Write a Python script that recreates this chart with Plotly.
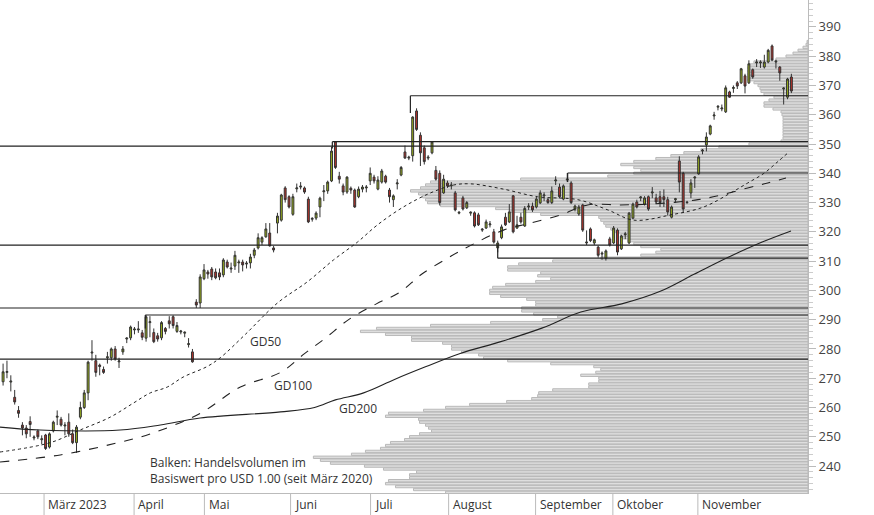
import plotly.graph_objects as go

# ---- candles (one per trading day, index 0..204) ----
opens = [268.8,272,268.7,263.5,259,254,253,255.2,249.6,252,249,250.6,246.5,252,256.7,256,253.7,255,251,248,256.7,260,265,278.6,276,274.5,273,277,277,280,275.6,279,283.4,283.8,286.5,286.5,285.5,283.7,289,285.6,284.5,283.8,287,289.6,291,286,285.8,285.4,281.5,279,296,295.7,304,306.3,307.3,306.3,306,
 305.3,309.7,307.3,308.3,309.4,309.7,309,309.4,312,314.5,316.5,318.3,319.6,314.5,323,324,335,332,326,334.7,335.3,335,331.2,324.3,324.7,328.5,333.7,334,337.4,350.7,339,335.7,333.6,334.9,334.3,332,334.6,335,337.4,338.7,334.6,337,339,334.3,331,336.4,339.4,347.3,345.2,346,361.3,353,348.7,345.2,347,341,340,
 333.3,336.7,335.7,333.3,326.4,331.6,328.2,326.4,326.5,325.8,320.6,321.3,322.4,320,314.5,318,325,323.4,332.3,321.3,325,322,328.5,328.8,328.5,329.9,332.3,331,330,337.4,335.3,331.2,337.7,336.7,327.8,326.1,329.2,316.2,321,316.2,314.8,312.4,311,317.6,316.2,320.6,314.2,319,316.2,324.7,330.2,331.6,329.5,332,
 333.3,331.6,332,332,331,325,331,344.2,340,330.2,333.3,338.4,339.8,347.6,349.7,353.4,359.6,362.6,362,361,367.8,369,370.9,370.9,373.3,370.9,375.4,377.7,377.7,376.3,378,383.5,378,376.3,368.8,366,372.9]
closes = [272.2,272.3,269,261.9,258,253,251,254.2,249.9,250,249.3,246,251,255,257,254,254,251,248,253.3,260,265,275.5,278.9,272,274,272,277.3,280,276.6,275.9,280,283.7,287.5,286.8,286.8,284,291,289.3,282.5,283.4,289,286,288.6,288,288,286.1,285.7,281.8,275.6,295,304.6,307,305.6,304.6,304.3,304.6,
 310.4,308,307.6,312,309.7,308.7,309.3,311.4,313.8,318,318,321,315.2,313.8,325.4,332.6,331,328.5,332,335,335.6,333.6,323.4,324.6,326.4,331.5,334,337,347.6,342,338,333.6,338.7,334.3,328.5,334.6,335.3,335.3,340,337.4,337.7,340.8,337,332,332.3,336.7,342,345.2,345.5,359.2,355,347,344,345.5,350.7,338,330,
 338,335.7,336,327.5,326.7,327.8,330,326.7,322,322.4,320.9,323.4,322.7,316.5,316.2,321.7,322.4,326.8,320,322.4,323.4,328,328.8,327.5,331.2,333.3,332.6,330,334,337.7,332,335.7,338,330,328.8,328.5,320.6,316.5,317,317.3,312,312.7,313.5,315.5,321.3,313.1,318.6,319.3,326.4,329.5,328.5,331.9,331.6,327.8,
 333.6,330.2,330,331,326.8,328.5,331.3,337,327.8,330,336.7,338.7,345.6,347.9,352.4,356.2,359.9,362.9,362.3,369.2,366,369.3,369.8,375.7,369.8,377.4,372.9,378,378,378,382,378.7,378.3,374.3,369.1,372.2,368.1]
highs = [275,276,271,266,260.5,255,254,257,250.5,252.5,250.5,251,251.5,255.5,259,256.8,255,258,252.5,254,262,266,276,283,278,275,274,279,280.5,281,277,281,284,288,287.5,289.5,286.5,291.6,291.2,287,285.5,289.5,287.5,291.2,291.5,289.2,286.5,286,283.7,280,297,305.5,309,307,308,307.5,307.5,
 311,310.5,309.5,313.5,310.5,310.5,310,312.5,314.5,319.5,318.5,323,323,315.2,326.5,333,335.6,332.5,333,336.5,337,335.5,332,325,327,332,336,337.5,349,351,340.5,336.5,339,335.5,334.8,335.5,336,336,342,339.5,339,341.5,339.5,335,332.8,338,342.5,349.5,346,359.5,362.2,354,349.5,346.2,351,342.5,341,
 339.5,337.5,337,334,327,332.3,330.5,327,327,326.5,321.3,324.2,323.7,321,317,322.5,326.5,329.5,332.6,325.5,326.5,328.8,329.8,330,332,334.2,333.5,331.6,335.5,339,336.5,336.2,340.1,337.3,329.3,329.2,329.6,320.5,321.5,317.7,315.3,313.3,314,318.3,322,321.2,319,320,326.8,330,331,332.2,332.2,332.4,
 335.3,333,334,334.5,332,329,331.6,345.8,340.5,330.6,338,339,346.2,348.3,354,356.6,361,363.2,363.5,370,368.2,370,371.5,376,374,378.6,375.8,379,378.6,380.5,382.5,384,378.8,376.6,369.4,372.6,374]
lows = [267.5,270,265.5,261,256.5,250.5,249.5,250,248.8,249.2,247.5,245.5,246,251.5,254,253.5,250.5,250,247.5,244.5,256,259.5,262.5,276,270.5,271,271.5,275,276,276,273.5,278,282,283,285,285.5,283,282.5,284,282,282.5,283,285,287,287,285.5,285,284,280.5,275.3,294,294,303.5,304,303.5,303.8,303.5,
 304.5,307.5,306,307,306,306.5,307.5,307.5,311,314,315.5,318,315,313,319.5,323.5,330,328,325.5,333.5,334.5,333,323,323.5,324,325,330.5,333,337,341.5,336.5,332.5,333,333,328.2,331.5,333.5,333.5,336,336.5,334.2,336.5,336.5,330,328.5,334.5,339,345,344.5,344,354.5,342.5,343,344.5,346.5,337.5,329,
 333,335,334.5,327,326,327.3,327.8,325.5,321.5,322,320,321,321.5,316,313,317.5,322,323,319.5,321,322.8,321.7,327.5,326.8,328,329.5,330.5,329.6,329.5,336,331.5,330.8,337,329.5,327,325.5,320,315.5,316.5,315.5,311.2,310.5,310.2,315,315.8,312,313.8,317.5,315.8,324.3,328,330.5,329,327.2,
 331.5,329.5,328.5,328.5,325.6,324.6,330,333.5,326.5,329.6,331.5,335,339.5,346.5,347.5,353,358.3,361.5,361.2,360.6,365.8,367.5,368.8,370.5,367.3,370.5,372.3,376.3,376,375.8,377.6,378.3,375.8,371.6,363.5,365.3,367.4]
candle_index = list(range(len(opens)))

# ---- moving averages (sampled) ----
gd50_x = [-0.8,12.2,19.9,27.7,33.7,38.1,42.5,46.6,52.8,56.2,62.7,71,78.8,85.5,91.7,96.9,103.6,110.6,116.6,121,129.5,138.3,148.7,156.5,163.2,172.8,181.3,188.3,192.7,196.9,200.5,203.4]
gd50_y = [244.8,248,252.3,256.7,261.5,265,267,270.4,274,277,285,295.7,303,310.4,316.5,322.4,328.5,333.3,336,336.4,334.6,332,331,327.5,324,325.8,328.5,333.3,336.7,340,344,347.3]
gd100_x = [-0.8,14.8,29.5,38.1,51,61.4,71.8,78,83.4,89.6,96.6,102.8,108.3,115.5,121.8,129.5,136.5,144.3,151.3,159.8,167.6,179.8,185.8,192.7,197.9,202.6]
gd100_y = [241.4,243.8,247.9,251,258,267,272,278.4,283.7,290.2,295.4,299.5,305.5,311.4,315.9,320.6,323,325.8,329.2,329.2,329.5,331,332.6,335,336.7,338.4]
gd200_x = [-0.8,9.6,30.3,40.7,51,71.8,80.6,86,93.3,101.3,109.3,118.1,128.8,139.6,149.5,160.1,169.9,178.8,187.8,196.6,203.9]
gd200_y = [253.3,252.3,252.3,254,256.4,258.5,260,262.6,265,269.6,273.9,278.4,282.5,287.2,292.6,295.4,299.6,305.5,311.4,316.6,320.3]

# ---- volume profile (price bins 231..385) ----
profile_price = list(range(231, 386))
profile_volume = [362,394,412,422,419,398,398,391,424,443,477,487,494,456,442,427,422,417,403,398,388,376,379,382,388,389,422,419,384,362,338,301,276,270,269,255,219,219,209,209,227,212,207,214,257,300,324,329,346,356,356,365,396,396,422,447,431,377,317,265,250,274,286,286,272,272,281,307,318,318,315,302,272,257,270,267,300,300,289,255,207,
 167,152,147,167,174,180,185,187,192,197,202,204,207,209,267,297,312,367,380,382,385,389,397,387,382,377,287,200,174,167,174,187,174,152,137,124,107,89,59,27,25,25,25,25,25,25,25,25,26,27,35,44,44,39,34,44,47,48,50,54,60,60,60,60,60,59,54,32,22,15,10,5,2,1]

# ---- levels ----
full_levels = [349.3, 315.5, 294.0, 276.5]
part_levels = [366.5, 350.8, 340.1, 311.0, 291.6]
part_start = [105.4, 85.2, 146.1, 128.0, 36.8]
part_drop = [360.6, 348.5, 337.0, 315.5, 287.0]

month_ticks = [10.6, 33.9, 52.1, 74.4, 95.1, 115.3, 137.8, 157.8, 179.8]
month_labels = ["März 2023", "April", "Mai", "Juni", "Juli", "August", "September", "Oktober", "November"]

FONT = "Open Sans"
fig = go.Figure()
# profile on base axis x (drawn underneath), price marks on overlaying x2 (drawn on top)
fig.add_trace(go.Bar(orientation="h", y=profile_price, x=profile_volume, xaxis="x",
                     width=0.82, marker=dict(color="#dedede", line=dict(color="#b9b9b9", width=1)),
                     hoverinfo="skip", showlegend=False))
fig.add_trace(go.Scatter(x=gd200_x, y=gd200_y, xaxis="x2", mode="lines", line=dict(color="#222", width=1.1, shape="spline"), showlegend=False))
fig.add_trace(go.Scatter(x=gd100_x, y=gd100_y, xaxis="x2", mode="lines", line=dict(color="#222", width=1.1, dash="dash", shape="spline"), showlegend=False))
fig.add_trace(go.Scatter(x=gd50_x, y=gd50_y, xaxis="x2", mode="lines", line=dict(color="#222", width=1, dash="dot", shape="spline"), showlegend=False))
fig.add_trace(go.Candlestick(x=candle_index, open=opens, high=highs, low=lows, close=closes, xaxis="x2",
                             increasing=dict(fillcolor="#9bb21c", line=dict(color="#333", width=1)),
                             decreasing=dict(fillcolor="#b8322a", line=dict(color="#333", width=1)),
                             whiskerwidth=0, showlegend=False))

shapes = []
for lv in full_levels:
    shapes.append(dict(type="line", xref="paper", x0=0, x1=1, yref="y", y0=lv, y1=lv, line=dict(color="#222", width=1.2)))
for lv, st, dr in zip(part_levels, part_start, part_drop):
    shapes.append(dict(type="line", xref="x2", x0=st, x1=208.3, yref="y", y0=lv, y1=lv, line=dict(color="#222", width=1.2)))
    shapes.append(dict(type="line", xref="x2", x0=st, x1=st, yref="y", y0=lv, y1=dr, line=dict(color="#222", width=1.2)))
for t in month_ticks:
    shapes.append(dict(type="line", xref="x2", x0=t, x1=t, yref="paper", y0=0, y1=-0.045, line=dict(color="#bbb", width=1)))

ann = []
for t, l in zip(month_ticks, month_labels):
    ann.append(dict(x=t + 0.6, y=-0.003, xref="x2", yref="paper", text=l, showarrow=False,
                    xanchor="left", yanchor="top", font=dict(size=12, color="#333", family=FONT)))
for txt, xx, yy in [("GD50", 63.5, 282.5), ("GD100", 69.5, 267.5), ("GD200", 86.5, 259.5)]:
    ann.append(dict(x=xx, y=yy, xref="x2", text=txt, showarrow=False, xanchor="left", font=dict(size=12, color="#333", family=FONT)))
ann.append(dict(x=37.5, y=238.5, xref="x2", text="Balken: Handelsvolumen im<br>Basiswert pro USD 1.00 (seit März 2020)",
                showarrow=False, xanchor="left", align="left", yanchor="middle",
                font=dict(size=12, color="#333", family=FONT)))

fig.update_layout(
    width=874, height=515, margin=dict(l=0, r=66, t=0, b=22),
    paper_bgcolor="white", plot_bgcolor="white", barmode="overlay",
    shapes=shapes, annotations=ann, showlegend=False,
    xaxis=dict(range=[807, 0], showgrid=False, zeroline=False, showticklabels=False, ticks="",
               showline=True, linecolor="#bbb", fixedrange=True),
    xaxis2=dict(overlaying="x", range=[-0.8, 208.3], rangeslider=dict(visible=False), visible=False),
    yaxis=dict(range=[230.8, 399.2], side="right", showgrid=False, zeroline=False,
               tickvals=list(range(240, 400, 10)), ticks="outside", ticklen=7, tickcolor="#bbb",
               showline=True, linecolor="#bbb", tickfont=dict(size=13, color="#444", family=FONT),
               minor=dict(dtick=2, ticks="outside", ticklen=4, tickcolor="#ccc")),
)
fig.write_html("out.html", config={"displayModeBar": False})
with open("out.html", encoding="utf-8") as f:
    html = f.read()
html = html.replace("<body>", "<body style=\"margin:0;padding:0;overflow:hidden\">", 1)
with open("out.html", "w", encoding="utf-8") as f:
    f.write(html)
